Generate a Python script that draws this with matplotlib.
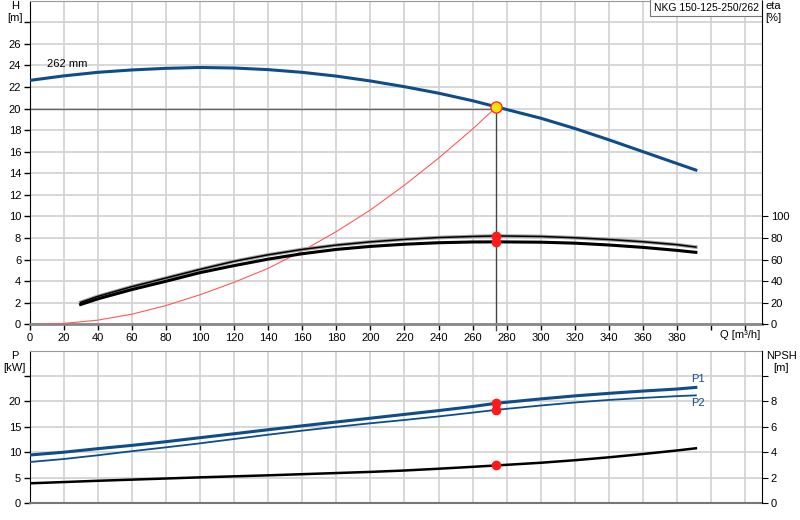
"""Pump performance chart: NKG 150-125-250/262."""

import matplotlib
matplotlib.use("Agg")
import matplotlib.pyplot as plt
import matplotlib.transforms as mtransforms

plt.rcParams["font.family"] = ["Liberation Sans", "DejaVu Sans"]
plt.rcParams["font.size"] = 8

# ---------------------------------------------------------------------------
# Data
# ---------------------------------------------------------------------------

PUMP_NAME = "NKG 150-125-250/262"
IMPELLER = "262 mm"

q_head = [0, 20, 40, 60, 80, 100, 120, 140, 160, 180, 200, 220, 240, 260,
          274, 300, 320, 340, 360, 380, 391]
head = [22.6, 23.02, 23.35, 23.57, 23.72, 23.8, 23.75, 23.6, 23.35, 23.0,
        22.55, 22.02, 21.42, 20.72, 20.15, 19.1, 18.15, 17.1, 16.0, 14.9, 14.3]

q_sys = [0, 20, 40, 60, 80, 100, 120, 140, 160, 180, 200, 220, 240, 260, 274]
h_sys = [0, 0.1, 0.4, 0.95, 1.75, 2.75, 3.9, 5.2, 6.8, 8.6, 10.6, 12.9,
         15.4, 18.1, 20.15]

q_eta = [30, 40, 60, 80, 100, 120, 140, 160, 180, 200, 220, 240, 260, 274,
         300, 320, 340, 360, 380, 391]
eta_pump = [20.5, 26, 35, 43, 51, 58.5, 64.5, 69.5, 73.5, 76.5, 78.8, 80.5,
            81.5, 82, 81.5, 80.3, 78.7, 76.6, 73.9, 71.7]
eta_total = [18.5, 23.7, 32.3, 40, 48, 54.5, 60.5, 65.5, 69.5, 72.3, 74.3,
             75.7, 76.4, 76.5, 76.2, 75.3, 73.6, 71.4, 68.6, 66.8]

q_low = [0, 20, 40, 60, 80, 100, 120, 140, 160, 180, 200, 220, 240, 260,
         274, 300, 320, 340, 360, 380, 391]
p1 = [9.45, 10.0, 10.7, 11.35, 12.07, 12.86, 13.64, 14.43, 15.2, 15.95,
      16.7, 17.45, 18.2, 19.0, 19.65, 20.5, 21.1, 21.6, 22.05, 22.45, 22.77]
p2 = [8.07, 8.66, 9.4, 10.2, 10.96, 11.75, 12.6, 13.45, 14.25, 15.0, 15.7,
      16.35, 17.05, 17.8, 18.35, 19.2, 19.8, 20.3, 20.7, 21.05, 21.2]
npsh = [1.55, 1.65, 1.75, 1.84, 1.93, 2.02, 2.10, 2.18, 2.27, 2.36, 2.45,
        2.56, 2.70, 2.85, 2.96, 3.17, 3.37, 3.6, 3.86, 4.14, 4.31]

duty_q = 274
duty_h = 20.15
duty_line_h = 20.0
duty_eta = [82.3, 76.4]
duty_p = [19.7, 18.4]
duty_npsh = 2.96

q_ticks = list(range(0, 440, 20))
q_labels = [str(v) if v <= 380 else "" for v in q_ticks]
h_ticks = list(range(0, 30, 2))
h_labels = [str(v) if v <= 26 else "" for v in h_ticks]
eta_ticks = list(range(0, 120, 20))
p_ticks = list(range(0, 30, 5))
p_labels = [str(v) if v <= 20 else "" for v in p_ticks]
npsh_ticks = list(range(0, 12, 2))
npsh_labels = [str(v) if v <= 8 else "" for v in npsh_ticks]

BLUE = "#0f4c8a"
GRID = "#d4d4d4"
EDGE = "#999999"


def _style_axis(ax):
    ax.set_facecolor("white")
    ax.grid(True, color=GRID, linewidth=1.3, zorder=0)
    ax.set_axisbelow(True)
    ax.tick_params(direction="out", length=4, width=1, colors="black",
                   labelsize=8, pad=2)
    ax.spines["top"].set_color(EDGE)
    ax.spines["left"].set_color("black")
    ax.spines["right"].set_visible(False)


def _style_twin(ax):
    ax.tick_params(direction="out", length=4, labelsize=8, pad=2)
    for s in ("top", "left", "bottom"):
        ax.spines[s].set_visible(False)
    ax.spines["right"].set_color("black")


fig = plt.figure(figsize=(8, 5.2), dpi=100)
fig.patch.set_facecolor("white")

# ---------------------------------------------------------------------------
# Top panel: head + efficiency
# ---------------------------------------------------------------------------
ax_h = fig.add_axes([0.0369, 0.376, 0.9160, 0.623])
_style_axis(ax_h)
ax_h.set_xlim(0, 430)
ax_h.set_ylim(0, 30)
ax_h.set_xticks(q_ticks)
ax_h.set_xticklabels(q_labels)
ax_h.set_yticks(h_ticks)
ax_h.set_yticklabels(h_labels)
ax_h.spines["bottom"].set_color("#888888")
ax_h.spines["bottom"].set_linewidth(2)

ax_eta = ax_h.twinx()
ax_eta.set_ylim(0, 300)
ax_eta.set_yticks(eta_ticks)
_style_twin(ax_eta)

ax_h.plot([0, duty_q], [duty_line_h, duty_line_h], color="#666666", lw=1, zorder=2)
ax_h.plot([duty_q, duty_q], [-0.5, duty_h], color="#444444", lw=1, zorder=2,
          clip_on=False)
ax_h.plot(q_sys, h_sys, color="#ff5a5a", lw=0.8, zorder=3)
ax_h.plot(q_head, head, color=BLUE, lw=2.2, zorder=4)
ax_h.text(10, 24.1, IMPELLER, fontsize=8, va="center", ha="left", zorder=5)

ax_eta.plot(q_eta, eta_pump, color="#a0a0a0", lw=2.6, zorder=3)
ax_eta.plot(q_eta, eta_pump, color="black", lw=1.1, zorder=4)
ax_eta.plot(q_eta, eta_total, color="black", lw=2.2, zorder=4)
ax_eta.plot([duty_q] * 2, duty_eta, "o", color="#ff1a1a", ms=6, zorder=6)
ax_eta.plot([duty_q], [duty_h * 10], "o", color="#ffe000", mec="#ff3030",
            mew=1, ms=8, zorder=7)

ax_h.text(-0.020, 1.0, "H\n[m]", transform=ax_h.transAxes, ha="center",
          va="top", fontsize=8, linespacing=1.3)
ax_h.text(1.004, 1.0, "eta\n[%]", transform=ax_h.transAxes, ha="left",
          va="top", fontsize=8, linespacing=1.3)
trans = mtransforms.blended_transform_factory(ax_h.transData, ax_h.transAxes)
ax_h.text(405, -0.034, "Q [m³/h]", transform=trans, ha="left", va="center",
          fontsize=8)
ax_h.text(0.995, 0.993, PUMP_NAME, transform=ax_h.transAxes, ha="right",
          va="top", fontsize=7.5, zorder=8,
          bbox=dict(boxstyle="square,pad=0.35", facecolor="white",
                    edgecolor="#777777", linewidth=0.8))

# ---------------------------------------------------------------------------
# Bottom panel: power + NPSH
# ---------------------------------------------------------------------------
ax_p = fig.add_axes([0.0369, 0.0327, 0.9160, 0.2929])
_style_axis(ax_p)
ax_p.set_xlim(0, 430)
ax_p.set_ylim(0, 30)
ax_p.set_xticks(q_ticks)
ax_p.set_xticklabels([])
ax_p.tick_params(axis="x", length=0)
ax_p.set_yticks(p_ticks)
ax_p.set_yticklabels(p_labels)
ax_p.spines["bottom"].set_color("#777777")
ax_p.spines["bottom"].set_linewidth(1.5)

ax_n = ax_p.twinx()
ax_n.set_ylim(0, 12)
ax_n.set_yticks(npsh_ticks)
ax_n.set_yticklabels(npsh_labels)
_style_twin(ax_n)

ax_p.plot(q_low, p1, color=BLUE, lw=2.2, zorder=4)
ax_p.plot(q_low, p2, color=BLUE, lw=1.3, zorder=4)
ax_p.plot([duty_q] * 2, duty_p, "o", color="#ff1a1a", ms=6, zorder=6)
ax_n.plot(q_low, npsh, color="black", lw=1.8, zorder=4)
ax_n.plot([duty_q], [duty_npsh], "o", color="#ff1a1a", ms=6, zorder=6)

ax_p.text(q_low[-1] - 3, p1[-1] + 0.6, "P1", color=BLUE, fontsize=8,
          ha="left", va="bottom")
ax_p.text(q_low[-1] - 3, p2[-1] - 0.6, "P2", color=BLUE, fontsize=8,
          ha="left", va="top")

ax_p.text(-0.020, 1.0, "P\n[kW]", transform=ax_p.transAxes, ha="center",
          va="top", fontsize=8, linespacing=1.3)
ax_p.text(1.026, 1.0, "NPSH\n[m]", transform=ax_p.transAxes, ha="center",
          va="top", fontsize=8, linespacing=1.3)

fig.savefig("out.png", dpi=100, facecolor="white")
plt.close(fig)
